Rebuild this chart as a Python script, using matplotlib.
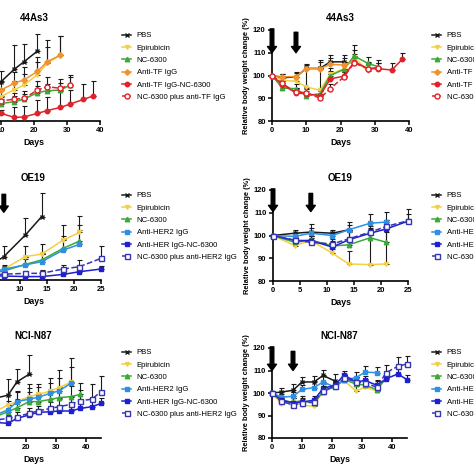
import matplotlib
matplotlib.use("Agg")
import matplotlib.pyplot as plt
import numpy as np

plt.rcParams["font.family"] = ["Liberation Sans", "DejaVu Sans"]

# ---- days ----
days_44 = [0, 3, 7, 10, 14, 17, 21, 24, 28, 31, 35, 38]
days_oe = [0, 4, 7, 11, 14, 18, 21, 25]
days_n87 = [0, 3, 7, 10, 14, 17, 21, 24, 28, 31, 35, 38, 42, 45]

# ---- 44As3 tumor volume (mean, upper SD) ----
tv44_pbs = [100, 250, 560, 1080, 1420, 1630, 1920]
tv44_pbs_sd = [20, 60, 150, 300, 660, 490, 470]
tv44_epi = [100, 180, 380, 670, 860, 990, 1270, 1590, 1810]
tv44_epi_sd = [20, 50, 120, 200, 250, 300, 350, 450, 520]
tv44_nc = [100, 160, 330, 480, 530, 600, 780, 830, 850, 990]
tv44_nc_sd = [15, 40, 90, 120, 150, 150, 180, 200, 200, 230]
tv44_tf = [100, 210, 450, 850, 1040, 1130, 1360, 1630, 1810]
tv44_tf_sd = [20, 60, 150, 250, 300, 350, 400, 600, 520]
tv44_tfnc = [100, 220, 320, 210, 100, 110, 210, 285, 375, 465, 595, 690]
tv44_tfnc_sd = [15, 40, 60, 80, 280, 290, 370, 370, 460, 390, 420, 420]
tv44_combo = [100, 170, 340, 550, 600, 620, 850, 940, 900, 990]
tv44_combo_sd = [15, 40, 100, 150, 180, 200, 250, 260, 250, 270]

# ---- 44As3 body weight ----
bw44_pbs = [100, 99, 99.4, 103.1, 103.1, 106, 106]
bw44_pbs_sd = [0, 1.5, 2, 2, 3.5, 3, 3]
bw44_epi = [100, 97.9, 97.5, 95, 93.5, 100.5, 103, 108, 102]
bw44_epi_sd = [0, 1.5, 2, 8, 10, 3, 3, 3, 3]
bw44_nc = [100, 94.5, 94.2, 91.1, 92, 100, 102.7, 108.6, 105.3, 103.9]
bw44_nc_sd = [0, 1.5, 2, 2, 2, 2, 2, 5, 3, 3]
bw44_tf = [100, 99.5, 99.5, 103, 103, 104.9, 104.6, 106, 103]
bw44_tf_sd = [0, 1, 1.5, 1.5, 3, 3, 3, 3.5, 3]
bw44_tfnc = [100, 96, 92.3, 92, 91.1, 98.5, 99.7, 106, 103, 103, 102.4, 107.1]
bw44_tfnc_sd = [0, 1.5, 2, 2, 2, 2, 2, 2, 2, 2.5, 3, 3]
bw44_combo = [100, 96.5, 92.6, 92.5, 90, 94.2, 99.4, 105.5, 103, 103.5]
bw44_combo_sd = [0, 1, 2, 2, 2, 2, 2, 2, 2, 2]

# ---- OE19 tumor volume ----
tvoe_pbs = [100, 350, 650, 1250, 1760]
tvoe_pbs_sd = [20, 100, 300, 480, 650]
tvoe_epi = [100, 200, 300, 650, 720, 1110, 1320]
tvoe_epi_sd = [20, 60, 100, 300, 270, 420, 470]
tvoe_nc = [100, 170, 250, 435, 555, 880, 1080]
tvoe_nc_sd = [20, 50, 80, 200, 200, 350, 450]
tvoe_her2 = [100, 170, 300, 420, 510, 830, 990]
tvoe_her2_sd = [20, 50, 130, 150, 200, 300, 400]
tvoe_hernc = [100, 120, 110, 95, 95, 155, 230, 305]
tvoe_hernc_sd = [10, 20, 30, 30, 30, 40, 50, 80]
tvoe_combo = [100, 140, 160, 185, 185, 305, 370, 600]
tvoe_combo_sd = [10, 30, 40, 60, 80, 120, 180, 340]

# ---- OE19 body weight ----
bwoe_pbs = [100, 101, 101.5, 101, 102.5]
bwoe_pbs_sd = [0, 1.5, 2, 1.5, 2]
bwoe_epi = [100, 95.6, 97.8, 92.2, 87.5, 87.2, 87.5]
bwoe_epi_sd = [0, 1, 2, 2, 5.5, 14, 14]
bwoe_nc = [100, 97, 98, 95.4, 95.9, 99, 97]
bwoe_nc_sd = [0, 1.5, 2, 2, 6, 4, 6]
bwoe_her2 = [100, 99.6, 101, 100, 102.5, 105.4, 105.9]
bwoe_her2_sd = [0, 1.5, 4, 1.5, 3.5, 4, 4.5]
bwoe_hernc = [100, 97.8, 97.8, 94.9, 98.1, 101, 102.9, 106.3]
bwoe_hernc_sd = [0, 1.5, 2, 2, 4.5, 2.5, 4, 3]
bwoe_combo = [100, 98, 97, 96.3, 98.5, 101.5, 104, 106.5]
bwoe_combo_sd = [0, 1, 2, 2, 3, 2.5, 3, 5]

# ---- NCI-N87 tumor volume ----
tvn_pbs = [100, 300, 650, 1110, 1190, 1560, 1770]
tvn_pbs_sd = [20, 80, 200, 300, 460, 370, 540]
tvn_epi = [100, 250, 500, 750, 920, 1010, 1150, 1210, 1300, 1400, 1550]
tvn_epi_sd = [20, 60, 150, 250, 280, 300, 350, 290, 360, 490, 670]
tvn_nc = [100, 220, 420, 600, 730, 840, 1010, 1010, 1070, 1120, 1150, 1210]
tvn_nc_sd = [20, 50, 120, 180, 200, 230, 280, 250, 300, 300, 300, 320]
tvn_her2 = [100, 240, 450, 650, 780, 1010, 1080, 1130, 1240, 1310, 1520]
tvn_her2_sd = [20, 60, 150, 200, 250, 260, 300, 300, 300, 350, 450]
tvn_hernc = [100, 200, 350, 435, 405, 545, 640, 710, 730, 750, 750, 820, 870, 960]
tvn_hernc_sd = [10, 30, 50, 60, 60, 80, 100, 100, 100, 100, 120, 120, 150, 150]
tvn_combo = [100, 210, 380, 500, 545, 590, 685, 750, 820, 870, 935, 1030, 1080, 1290]
tvn_combo_sd = [10, 30, 60, 80, 100, 120, 150, 150, 180, 200, 220, 300, 410, 420]

# ---- NCI-N87 body weight ----
bwn_pbs = [100, 100.4, 101.2, 104.9, 104.9, 107.8, 105.3]
bwn_pbs_sd = [0, 2, 3, 2, 2.5, 2.5, 3]
bwn_epi = [100, 95.3, 96, 94.6, 94.1, 101.2, 102.6, 105.6, 100.9, 102.6, 100.9]
bwn_epi_sd = [0, 1.5, 2, 2, 2, 2, 2, 2, 2, 2, 2]
bwn_nc = [100, 96.5, 96, 96.5, 95.5, 100.5, 103, 106, 104, 103.5, 101.5, 106.5]
bwn_nc_sd = [0, 1.5, 2, 2, 2, 2, 2, 2, 2, 2, 2, 3]
bwn_her2 = [100, 98.2, 98.5, 101.6, 102.4, 104.9, 102.6, 105.9, 106.8, 109.3, 109]
bwn_her2_sd = [0, 1.5, 2, 2, 3, 2.5, 2.5, 2, 2.5, 2.5, 2.5]
bwn_hernc = [100, 97, 95.6, 96, 96.8, 102, 103.5, 108, 104.9, 105.6, 103.4, 106.3, 108.5, 105.9]
bwn_hernc_sd = [0, 1.5, 2, 2, 2, 2, 2, 2, 2, 2, 2, 2, 2, 2]
bwn_combo = [100, 96.5, 94.6, 95.5, 96, 101, 103, 106.5, 105, 104.4, 102.6, 109, 111.9, 112.9]
bwn_combo_sd = [0, 1.5, 2, 2, 2, 2, 2, 2, 2, 2, 3, 3.5, 4, 3.7]

# ---- legend labels ----
labels_tf = ["PBS", "Epirubicin", "NC-6300", "Anti-TF IgG",
             "Anti-TF IgG-NC-6300", "NC-6300 plus anti-TF IgG"]
labels_her = ["PBS", "Epirubicin", "NC-6300", "Anti-HER2 IgG",
              "Anti-HER IgG-NC-6300", "NC-6300 plus anti-HER2 IgG"]

BLACK = "#1a1a1a"
YELLOW = "#f3cf45"
GREEN = "#3aa935"
ORANGE = "#ee9330"
RED = "#e0232b"
SKY = "#2f8fe3"
BLUE = "#1d1fd0"
NAVY = "#3535b5"

style_tf = [
    dict(color=BLACK, marker="x", ms=3.2, ls="-"),
    dict(color=YELLOW, marker="v", ms=2.8, ls="-"),
    dict(color=GREEN, marker="^", ms=3.2, ls="-"),
    dict(color=ORANGE, marker="D", ms=2.8, ls="-"),
    dict(color=RED, marker="o", ms=3.2, ls="-"),
    dict(color=RED, marker="o", ms=3.6, ls="--", mfc="white"),
]
style_her = [
    dict(color=BLACK, marker="x", ms=3.2, ls="-"),
    dict(color=YELLOW, marker="v", ms=2.8, ls="-"),
    dict(color=GREEN, marker="^", ms=3.2, ls="-"),
    dict(color=SKY, marker="s", ms=3.4, ls="-"),
    dict(color=BLUE, marker="s", ms=3.0, ls="-"),
    dict(color=NAVY, marker="s", ms=3.6, ls="--", mfc="white"),
]

W = 474.0
fig = plt.figure(figsize=(4.74, 4.74), dpi=100)


def make_ax(x0, x1, top, bottom):
    ax = fig.add_axes([x0 / W, 1 - bottom / W, (x1 - x0) / W, (bottom - top) / W])
    ax.spines["top"].set_visible(False)
    ax.spines["right"].set_visible(False)
    for s in ("left", "bottom"):
        ax.spines[s].set_linewidth(1.2)
    ax.tick_params(width=1.1, length=3, labelsize=5.5, pad=1.5)
    return ax


def draw_series(ax, days, series, sds, styles):
    handles = []
    for y, sd, st in zip(series, sds, styles):
        d = days[:len(y)]
        ax.errorbar(d, y, yerr=[np.zeros(len(sd)), sd], fmt="none", ecolor=BLACK,
                    elinewidth=0.8, capsize=1.8, capthick=0.8, clip_on=False, zorder=2)
        h, = ax.plot(d, y, lw=1.1, clip_on=False, zorder=3, **st)
        handles.append(h)
    return handles


def arrow(ax, x, y_top, y_tip):
    ax.annotate("", xy=(x, y_tip), xytext=(x, y_top), annotation_clip=False,
                arrowprops=dict(facecolor="black", edgecolor="black",
                                width=2.6, headwidth=6.5, headlength=4.5, shrink=0))


def finish(ax, title, legend_handles, labels, lx, ly):
    ax.set_title(title, fontsize=7, fontweight="bold", pad=6.5)
    ax.set_xlabel("Days", fontsize=6.3, fontweight="bold", labelpad=3)
    for lab in ax.get_xticklabels() + ax.get_yticklabels():
        lab.set_fontweight("bold")
    ax.legend(legend_handles, labels, loc="upper left", bbox_to_anchor=(lx / W, 1 - ly / W),
              bbox_transform=fig.transFigure, frameon=False, fontsize=5.6,
              handlelength=1.2, handletextpad=0.7, labelspacing=0.63,
              borderpad=0, borderaxespad=0)


def tumor_axes(ax, xmax, xticks):
    # y axis of the tumor panels lies outside the cropped picture
    ax.set_xlim(0, xmax)
    ax.set_ylim(0, 2500)
    ax.set_xticks(xticks)
    ax.tick_params(axis="y", labelleft=False)


def weight_axes(ax, xmax, xticks):
    ax.set_xlim(0, xmax)
    ax.set_ylim(80, 120)
    ax.set_xticks(xticks)
    ax.set_yticks([80, 90, 100, 110, 120])
    ax.set_ylabel("Relative body weight change (%)", fontsize=5.4,
                  fontweight="bold", labelpad=2)


# ---------- row 1: 44As3 ----------
ax = make_ax(-32, 100, 30, 121)
tumor_axes(ax, 40, [0, 10, 20, 30, 40])
h = draw_series(ax, days_44,
                [tv44_pbs, tv44_epi, tv44_nc, tv44_tf, tv44_tfnc, tv44_combo],
                [tv44_pbs_sd, tv44_epi_sd, tv44_nc_sd, tv44_tf_sd, tv44_tfnc_sd, tv44_combo_sd],
                style_tf)
finish(ax, "44As3", h, labels_tf, 122, 32)

ax = make_ax(272, 409, 30, 121)
weight_axes(ax, 40, [0, 10, 20, 30, 40])
h = draw_series(ax, days_44,
                [bw44_pbs, bw44_epi, bw44_nc, bw44_tf, bw44_tfnc, bw44_combo],
                [bw44_pbs_sd, bw44_epi_sd, bw44_nc_sd, bw44_tf_sd, bw44_tfnc_sd, bw44_combo_sd],
                style_tf)
arrow(ax, 0, 120.5, 110)
arrow(ax, 7, 119, 110)
finish(ax, "44As3", h, labels_tf, 432, 32)

# ---------- row 2: OE19 ----------
ax = make_ax(-34, 101, 190, 280)
tumor_axes(ax, 25, [0, 5, 10, 15, 20, 25])
h = draw_series(ax, days_oe,
                [tvoe_pbs, tvoe_epi, tvoe_nc, tvoe_her2, tvoe_hernc, tvoe_combo],
                [tvoe_pbs_sd, tvoe_epi_sd, tvoe_nc_sd, tvoe_her2_sd, tvoe_hernc_sd, tvoe_combo_sd],
                style_her)
arrow(ax, 7, 2380, 1880)
finish(ax, "OE19", h, labels_her, 122, 192)

ax = make_ax(273, 408, 190, 281)
weight_axes(ax, 25, [0, 5, 10, 15, 20, 25])
h = draw_series(ax, days_oe,
                [bwoe_pbs, bwoe_epi, bwoe_nc, bwoe_her2, bwoe_hernc, bwoe_combo],
                [bwoe_pbs_sd, bwoe_epi_sd, bwoe_nc_sd, bwoe_her2_sd, bwoe_hernc_sd, bwoe_combo_sd],
                style_her)
arrow(ax, 0, 120.5, 110.5)
arrow(ax, 7, 118.5, 110.5)
finish(ax, "OE19", h, labels_her, 432, 192)

# ---------- row 3: NCI-N87 ----------
ax = make_ax(-34, 101, 348, 438)
tumor_axes(ax, 45, [0, 10, 20, 30, 40])
h = draw_series(ax, days_n87,
                [tvn_pbs, tvn_epi, tvn_nc, tvn_her2, tvn_hernc, tvn_combo],
                [tvn_pbs_sd, tvn_epi_sd, tvn_nc_sd, tvn_her2_sd, tvn_hernc_sd, tvn_combo_sd],
                style_her)
finish(ax, "NCI-N87", h, labels_her, 122, 349)

ax = make_ax(272, 407, 348, 438)
weight_axes(ax, 45, [0, 10, 20, 30, 40])
h = draw_series(ax, days_n87,
                [bwn_pbs, bwn_epi, bwn_nc, bwn_her2, bwn_hernc, bwn_combo],
                [bwn_pbs_sd, bwn_epi_sd, bwn_nc_sd, bwn_her2_sd, bwn_hernc_sd, bwn_combo_sd],
                style_her)
arrow(ax, 0, 120.5, 110)
arrow(ax, 7, 118.5, 110)
finish(ax, "NCI-N87", h, labels_her, 432, 349)

fig.savefig("out.png", dpi=100)
